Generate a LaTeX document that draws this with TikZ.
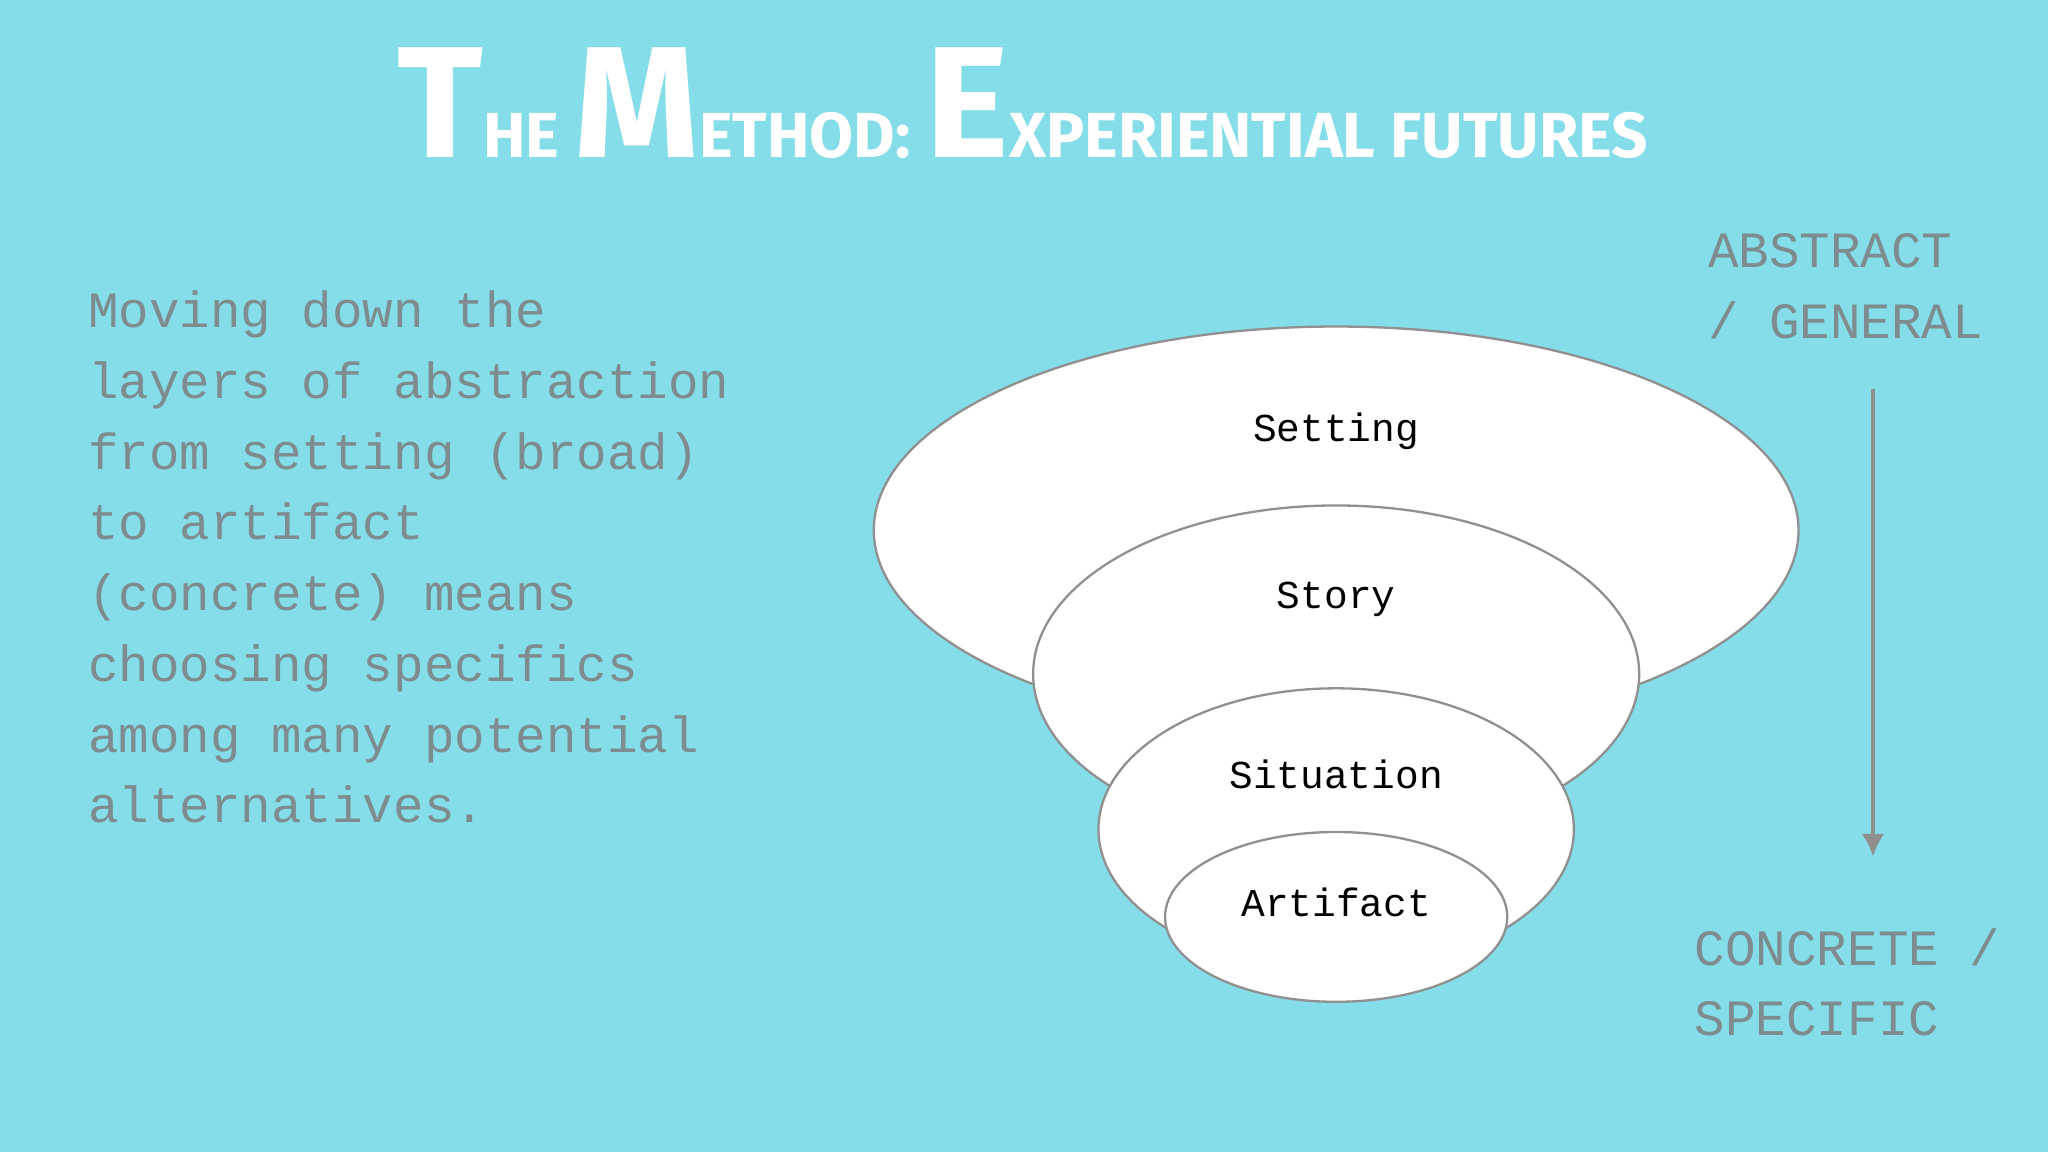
\documentclass[tikz,border=0pt]{standalone}
\usepackage{fontspec}
\usetikzlibrary{arrows.meta}
\setmonofont{Liberation Mono}
\newfontfamily\titlefont{Fira Sans}
\definecolor{bg}{HTML}{84DDE9}
\definecolor{txt}{HTML}{7E8C90}
\definecolor{edge}{HTML}{909090}
\begin{document}
\begin{tikzpicture}[x=0.01cm,y=-0.01cm,
  layer/.style={draw=edge,line width=0.5pt,fill=white},
  lbl/.style={font=\fontsize{8.6}{10}\selectfont\ttfamily,text=black},
  side/.style={font=\fontsize{11.07}{15.4}\selectfont\ttfamily,text=txt,align=left,anchor=north west,inner sep=0pt}]
\fill[bg] (0,0) rectangle (1568,882);
\useasboundingbox (0,0) rectangle (1568,882);
\node[anchor=center,inner sep=0pt,text=white] (title) at (783,79)
  {\resizebox{9.57cm}{0.84cm}{\titlefont\bfseries {\Huge T}HE {\Huge M}ETHOD: {\Huge E}XPERIENTIAL FUTURES}};
\node[side] (desc) at (67,222) {Moving down the\\layers of abstraction\\from setting (broad)\\to artifact\\(concrete) means\\choosing specifics\\among many potential\\alternatives.};
\node[side] (abs) at (1307,178) {ABSTRACT\\/ GENERAL};
\node[side] (con) at (1297,710) {CONCRETE /\\SPECIFIC};
\draw[layer] (1023,406) ellipse [x radius=354,y radius=156];
\draw[layer] (1023,516) ellipse [x radius=232,y radius=129];
\draw[layer] (1023,635) ellipse [x radius=182,y radius=108];
\draw[layer] (1023,702) ellipse [x radius=131,y radius=65];
\node[lbl] (setting) at (1023,330) {Setting};
\node[lbl] (story) at (1023,459) {Story};
\node[lbl] (situation) at (1023,593) {Situation};
\node[lbl] (artifact) at (1023,691) {Artifact};
\coordinate (a1) at (1434,298);
\coordinate (a2) at (1434,656);
\draw[edge,line width=1pt,-{Latex[length=5pt,width=5pt]}] (a1) -- (a2);
\end{tikzpicture}
\end{document}
